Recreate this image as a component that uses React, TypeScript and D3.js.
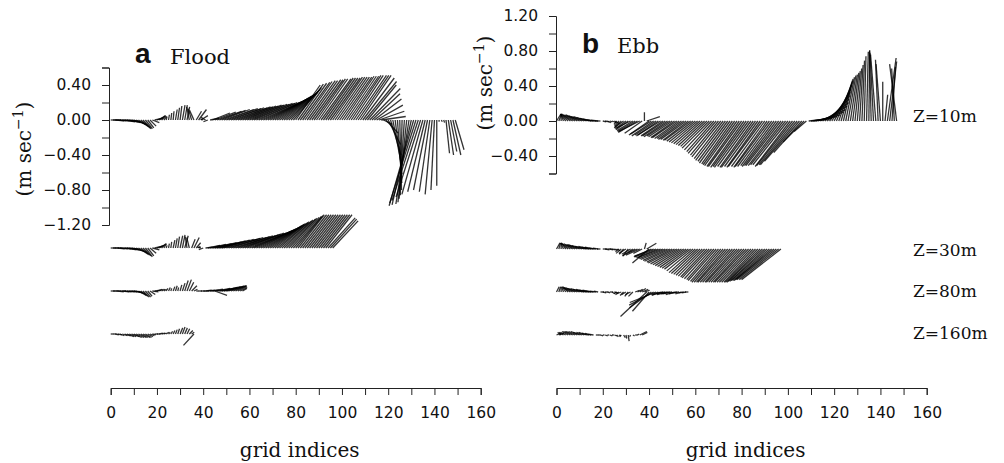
import { useEffect, useRef } from "react";
import * as d3 from "d3";

// each stick is [u, v] in m/s (east, north) at one grid index, starting at index 0
type Vec = [number, number];

const depthLabels = ["Z=10m", "Z=30m", "Z=80m", "Z=160m"];
const xTicks = d3.range(0, 161, 10);

const flood10: Vec[] = [
  [0.08, 0], [0.09, 0], [0.1, -0.01], [0.1, -0.01], [0.11, -0.01], [0.12, -0.01], [0.12, -0.02], [0.13, -0.02], [0.13, -0.03], [0.14, -0.03],
  [0.14, -0.05], [0.13, -0.06], [0.12, -0.08], [0.11, -0.09], [0.09, -0.1], [0.08, -0.1], [0.07, -0.09], [0.07, -0.07], [0.08, -0.03], [0.1, 0.02],
  [0.09, 0.04], [0.07, 0.05], [0.05, 0.05], [0.03, 0.04], [0.01, 0.04], [0.01, 0.06], [0.01, 0.08], [0.01, 0.1], [0.02, 0.12], [0.02, 0.14],
  [0.02, 0.16], [0.03, 0.17], [0.03, 0.17], [0.03, 0.15], [-0.03, 0.15], [-0.04, 0.13], [-0.05, 0.11], [0.06, 0.1], [0.09, 0.12], [0.08, 0.05],
  [-0.03, 0.01], [-0.05, 0.03], [-0.05, -0.02], [0.1, 0.02], [0.2, 0.08], [0.24, 0.09], [0.28, 0.1], [0.3, 0.11], [0.32, 0.12], [0.34, 0.12],
  [0.36, 0.13], [0.37, 0.13], [0.38, 0.14], [0.39, 0.14], [0.4, 0.15], [0.4, 0.15], [0.41, 0.16], [0.41, 0.16], [0.42, 0.17], [0.42, 0.17],
  [0.43, 0.18], [0.43, 0.18], [0.44, 0.19], [0.44, 0.19], [0.44, 0.2], [0.44, 0.2], [0.44, 0.21], [0.44, 0.22], [0.43, 0.23], [0.42, 0.24],
  [0.41, 0.25], [0.4, 0.26], [0.39, 0.27], [0.38, 0.28], [0.37, 0.29], [0.36, 0.3], [0.35, 0.31], [0.34, 0.33], [0.33, 0.35], [0.32, 0.37],
  [0.28, 0.4], [0.29, 0.41], [0.3, 0.42], [0.31, 0.43], [0.31, 0.44], [0.32, 0.45], [0.32, 0.45], [0.33, 0.46], [0.33, 0.46], [0.33, 0.47],
  [0.33, 0.47], [0.34, 0.47], [0.34, 0.48], [0.34, 0.48], [0.34, 0.48], [0.34, 0.48], [0.34, 0.49], [0.34, 0.49], [0.34, 0.49], [0.34, 0.49],
  [0.34, 0.49], [0.34, 0.5], [0.34, 0.5], [0.34, 0.5], [0.34, 0.51], [0.34, 0.51], [0.35, 0.51], [0.35, 0.51], [0.35, 0.51], [0.36, 0.48],
  [0.36, 0.44], [0.33, 0.4], [0.35, 0.36], [0.32, 0.3], [0.31, 0.24], [0.3, 0.17], [0.29, 0.1], [0.28, 0.04], [0.1, -0.05], [0.14, -0.15],
  [0.14, -0.28], [0.12, -0.4], [0.1, -0.52], [0.08, -0.62], [0.05, -0.72], [0.02, -0.8], [-0.02, -0.86], [-0.06, -0.9], [-0.1, -0.94], [-0.15, -0.96],
  [-0.22, -0.97], [-0.28, -0.98], [-0.3, -0.95], [-0.3, -0.92], [-0.28, -0.88], [-0.24, -0.85], [-0.2, -0.82], [-0.16, -0.8], [-0.12, -0.82], [-0.08, -0.85],
  [-0.04, -0.8], [0, -0.75], [0, -0.02], [0.01, -0.02], [0.01, -0.03], [0.04, -0.38], [0.06, -0.4], [0.07, -0.36], [0.09, -0.4], [0.1, -0.34],
];

const flood30: Vec[] = [
  [0.06, 0], [0.07, 0], [0.08, 0], [0.08, -0.01], [0.09, -0.01], [0.1, -0.01], [0.1, -0.01], [0.11, -0.02], [0.11, -0.02], [0.12, -0.03],
  [0.12, -0.04], [0.12, -0.05], [0.11, -0.07], [0.1, -0.08], [0.09, -0.09], [0.08, -0.1], [0.07, -0.09], [0.07, -0.06], [0.08, -0.02], [0.09, 0.02],
  [0.08, 0.03], [0.07, 0.04], [0.05, 0.05], [0.03, 0.05], [0.01, 0.03], [0.01, 0.05], [0.01, 0.07], [0.02, 0.09], [0.02, 0.11], [0.02, 0.13],
  [0.03, 0.14], [0.03, 0.15], [0.04, 0.14], [-0.02, 0.13], [-0.03, 0.12], [0.04, 0.1], [0.06, 0.12], [0.05, 0.06], [0.02, 0.02], [-0.04, 0.01],
  [-0.05, -0.02], [0.08, 0.01], [0.14, 0.03], [0.18, 0.04], [0.22, 0.05], [0.25, 0.06], [0.28, 0.07], [0.3, 0.08], [0.32, 0.09], [0.34, 0.1],
  [0.35, 0.1], [0.36, 0.11], [0.37, 0.12], [0.38, 0.12], [0.39, 0.13], [0.4, 0.14], [0.4, 0.14], [0.41, 0.15], [0.41, 0.16], [0.42, 0.17],
  [0.42, 0.17], [0.42, 0.18], [0.42, 0.19], [0.41, 0.2], [0.41, 0.21], [0.4, 0.22], [0.4, 0.23], [0.39, 0.24], [0.38, 0.25], [0.37, 0.26],
  [0.36, 0.27], [0.35, 0.28], [0.35, 0.29], [0.34, 0.3], [0.34, 0.31], [0.33, 0.32], [0.33, 0.33], [0.32, 0.34], [0.32, 0.35], [0.32, 0.36],
  [0.31, 0.37], [0.3, 0.38], [0.3, 0.38], [0.3, 0.38], [0.3, 0.38], [0.3, 0.38], [0.3, 0.38], [0.3, 0.38], [0.3, 0.38], [0.3, 0.38],
  [0.3, 0.38], [0.3, 0.38], [0.3, 0.38], [0.3, 0.38], [0.31, 0.345], [0.3, 0.33], [0.29, 0.31],
];

const flood80: Vec[] = [
  [0.05, 0], [0.06, 0], [0.06, 0], [0.07, -0.01], [0.07, 0], [0.08, -0.01], [0.08, -0.01], [0.09, -0.01], [0.09, -0.01], [0.1, -0.01],
  [0.1, -0.02], [0.1, -0.03], [0.09, -0.05], [0.08, -0.06], [0.07, -0.07], [0.06, -0.07], [0.05, -0.06], [0.06, -0.04], [0.07, -0.01], [0.07, 0.01],
  [0.06, 0.02], [0.05, 0.02], [0.04, 0.02], [0.03, 0.02], [0.02, 0.03], [0.02, 0.04], [0.01, 0.03], [0.02, 0.05], [0.02, 0.06], [0.01, 0.04],
  [0.02, 0.07], [0.03, 0.09], [0.04, 0.12], [0.05, 0.13], [0.05, 0.1], [0.06, 0.06], [0.04, 0.02], [0.03, 0], [0.04, 0], [0.05, 0],
  [0.06, 0], [0.07, 0.01], [0.08, 0.01], [0.1, 0.01], [0.12, 0.02], [0.14, -0.05], [0.15, 0.03], [0.17, 0.03], [0.18, 0.04], [0.19, 0.05],
  [0.19, 0.05], [0.18, 0.06], [0.17, 0.06], [0.15, 0.06], [0.13, 0.06], [0.1, 0.05], [0.08, 0.04], [0.05, 0.03],
];

const flood160: Vec[] = [
  [0.03, 0], [0.04, 0], [0.04, -0.01], [0.05, -0.01], [0.05, -0.02], [0.06, -0.02], [0.07, -0.02], [0.08, -0.03], [0.08, -0.03], [0.09, -0.03],
  [0.09, -0.04], [0.09, -0.04], [0.09, -0.04], [0.08, -0.04], [0.08, -0.04], [0.07, -0.04], [0.06, -0.03], [0.05, -0.02], [0.04, -0.01], [0.04, 0],
  [0.04, 0], [0.04, 0.01], [0.04, 0.01], [0.03, 0.01], [0.03, 0.02], [0.02, 0.02], [0.02, 0.03], [0.02, 0.04], [0.02, 0.05], [0.02, 0.06],
  [0.03, 0.07], [0.03, 0.08], [0.03, 0.07], [0.03, 0.06], [0.04, 0.04], [0.03, 0.02], [-0.12, -0.13],
];

const ebb10: Vec[] = [
  [0.05, 0.08], [0.03, 0.08], [0, 0.08], [-0.03, 0.08], [-0.06, 0.08], [-0.08, 0.08], [-0.1, 0.08], [-0.11, 0.07], [-0.12, 0.07], [-0.13, 0.07],
  [-0.14, 0.06], [-0.15, 0.06], [-0.15, 0.05], [-0.15, 0.05], [-0.14, 0.04], [-0.13, 0.03], [-0.12, 0.02], [-0.1, 0.01], [-0.08, 0.01], [-0.06, 0],
  [0.04, -0.01], [0.05, -0.01], [0.04, -0.02], [0.03, -0.01], [0.05, -0.02], [0.06, -0.03], [-0.03, -0.04], [-0.05, -0.06], [-0.08, -0.08], [-0.1, -0.07],
  [-0.12, -0.09], [-0.14, -0.1], [-0.16, -0.08], [-0.18, -0.11], [-0.2, -0.12], [-0.22, -0.13], [-0.24, -0.12], [-0.2, -0.14], [0, 0.1], [0.15, 0.05],
  [-0.23, -0.16], [-0.24, -0.15], [-0.25, -0.17], [-0.24, -0.16], [-0.25, -0.17], [-0.26, -0.16], [-0.25, -0.17], [-0.26, -0.17], [-0.27, -0.18], [-0.26, -0.17],
  [-0.27, -0.18], [-0.27, -0.19], [-0.28, -0.19], [-0.28, -0.2], [-0.28, -0.2], [-0.29, -0.21], [-0.29, -0.21], [-0.29, -0.22], [-0.3, -0.22], [-0.3, -0.23],
  [-0.3, -0.24], [-0.3, -0.25], [-0.3, -0.26], [-0.3, -0.27], [-0.3, -0.28], [-0.3, -0.29], [-0.31, -0.31], [-0.31, -0.33], [-0.31, -0.35], [-0.32, -0.37],
  [-0.32, -0.39], [-0.33, -0.41], [-0.33, -0.43], [-0.34, -0.45], [-0.34, -0.46], [-0.35, -0.48], [-0.35, -0.49], [-0.36, -0.5], [-0.37, -0.51], [-0.37, -0.52],
  [-0.38, -0.52], [-0.38, -0.53], [-0.38, -0.52], [-0.39, -0.53], [-0.38, -0.52], [-0.38, -0.53], [-0.39, -0.53], [-0.38, -0.52], [-0.38, -0.53], [-0.39, -0.52],
  [-0.38, -0.52], [-0.38, -0.53], [-0.39, -0.52], [-0.39, -0.52], [-0.38, -0.51], [-0.39, -0.52], [-0.39, -0.51], [-0.4, -0.51], [-0.4, -0.51], [-0.4, -0.5],
  [-0.4, -0.5], [-0.4, -0.52], [-0.41, -0.51], [-0.41, -0.5], [-0.42, -0.5], [-0.4, -0.46], [-0.32, -0.36], [-0.24, -0.24], [-0.14, -0.12], [0.2, 0.02],
  [0.24, 0.03], [0.27, 0.05], [0.28, 0.07], [0.29, 0.1], [0.29, 0.13], [0.28, 0.17], [0.27, 0.21], [0.25, 0.25], [0.23, 0.29], [0.21, 0.33],
  [0.19, 0.37], [0.17, 0.41], [0.15, 0.44], [0.13, 0.46], [0.11, 0.48], [0.1, 0.5], [0.09, 0.52], [0.08, 0.53], [0.07, 0.55], [0.06, 0.57],
  [0.05, 0.6], [0.04, 0.64], [0.03, 0.69], [0.02, 0.74], [0.02, 0.79], [0.01, 0.81], [-0.02, 0.8], [-0.04, 0.78], [-0.06, 0.76], [-0.03, 0.7],
  [-0.05, 0.65], [0, 0.45], [0.03, 0.3], [0.1, 0.72], [0.08, 0.68], [0.04, 0.62], [-0.03, 0.6], [-0.08, 0.65],
];

const ebb30: Vec[] = [
  [0.04, 0.07], [0.02, 0.07], [0, 0.07], [-0.03, 0.07], [-0.05, 0.07], [-0.07, 0.06], [-0.09, 0.06], [-0.1, 0.06], [-0.11, 0.05], [-0.12, 0.05],
  [-0.13, 0.05], [-0.14, 0.04], [-0.14, 0.04], [-0.13, 0.03], [-0.12, 0.03], [-0.11, 0.02], [-0.1, 0.02], [-0.08, 0.01], [-0.06, 0.01], [-0.04, 0],
  [0.05, 0], [0.05, -0.01], [0.05, 0], [0.04, -0.01], [0.04, -0.01], [0.03, -0.01], [0.04, -0.02], [-0.04, -0.03], [-0.06, -0.05], [-0.05, -0.06],
  [-0.08, -0.05], [-0.06, -0.08], [-0.1, -0.06], [-0.12, -0.08], [-0.08, -0.04], [-0.14, -0.06], [-0.16, -0.07], [-0.1, -0.05], [0.02, 0.07], [0.11, 0.065],
  [-0.19, -0.16], [-0.2, -0.09], [-0.22, -0.08], [-0.24, -0.09], [-0.25, -0.1], [-0.26, -0.1], [-0.27, -0.11], [-0.28, -0.12], [-0.28, -0.13], [-0.29, -0.14],
  [-0.29, -0.15], [-0.3, -0.16], [-0.3, -0.17], [-0.3, -0.18], [-0.3, -0.19], [-0.3, -0.2], [-0.3, -0.21], [-0.3, -0.22], [-0.3, -0.23], [-0.3, -0.25],
  [-0.3, -0.27], [-0.3, -0.28], [-0.3, -0.29], [-0.3, -0.3], [-0.3, -0.31], [-0.3, -0.32], [-0.31, -0.33], [-0.31, -0.34], [-0.31, -0.35], [-0.32, -0.36],
  [-0.32, -0.37], [-0.33, -0.38], [-0.33, -0.38], [-0.33, -0.38], [-0.34, -0.38], [-0.34, -0.38], [-0.34, -0.38], [-0.34, -0.38], [-0.35, -0.38], [-0.35, -0.38],
  [-0.35, -0.38], [-0.35, -0.38], [-0.36, -0.38], [-0.36, -0.38], [-0.36, -0.38], [-0.36, -0.38], [-0.36, -0.38], [-0.37, -0.38], [-0.38, -0.38], [-0.39, -0.37],
  [-0.4, -0.37], [-0.41, -0.36], [-0.42, -0.36], [-0.43, -0.36], [-0.44, -0.35], [-0.45, -0.35], [-0.45, -0.35], [-0.45, -0.35],
];

const ebb80: Vec[] = [
  [0.03, 0.06], [0.02, 0.06], [0, 0.06], [-0.02, 0.06], [-0.04, 0.06], [-0.06, 0.06], [-0.08, 0.05], [-0.1, 0.05], [-0.11, 0.05], [-0.12, 0.04],
  [-0.13, 0.04], [-0.13, 0.04], [-0.13, 0.03], [-0.12, 0.03], [-0.11, 0.02], [-0.1, 0.02], [-0.09, 0.01], [-0.07, 0.01], [-0.05, 0.01], [0.04, 0],
  [0.04, -0.01], [0.04, 0], [0.03, -0.01], [0.04, 0], [0.03, -0.02], [0.04, -0.01], [-0.03, -0.02], [-0.04, -0.03], [-0.05, -0.02], [-0.04, -0.04],
  [-0.05, -0.03], [-0.04, -0.05], [-0.06, -0.03], [-0.05, -0.05], [0.05, 0.02], [0.06, 0.03], [0.07, 0.04], [0.07, 0.03], [0.06, 0.02], [-0.3, -0.28],
  [-0.19, -0.22], [-0.25, -0.18], [-0.28, -0.15], [-0.3, -0.12], [-0.08, -0.03], [-0.1, -0.04], [-0.12, -0.03], [-0.1, -0.02], [-0.12, -0.03], [-0.1, -0.02],
  [-0.11, -0.02], [-0.1, -0.03], [-0.09, -0.02], [-0.08, -0.01], [-0.07, -0.02], [-0.06, -0.01], [-0.05, -0.01], [-0.04, 0],
];

const ebb160: Vec[] = [
  [0.05, 0.02], [0.06, 0.02], [-0.04, 0.03], [-0.05, 0.03], [-0.06, 0.03], [-0.07, 0.04], [-0.08, 0.04], [-0.09, 0.04], [-0.1, 0.04], [-0.1, 0.04],
  [-0.1, 0.04], [-0.1, 0.03], [-0.09, 0.03], [-0.09, 0.03], [-0.08, 0.02], [-0.07, 0.02], [-0.06, 0.01], [0.03, 0], [0.03, 0], [0.03, -0.01],
  [0.02, 0], [0.03, -0.01], [0.02, 0], [0.03, -0.01], [0.02, 0], [0.03, -0.01], [0.02, -0.02], [0.02, -0.01], [-0.02, -0.02], [0.02, -0.03],
  [0.01, -0.04], [0.01, -0.07], [-0.01, -0.02], [0.02, -0.01], [0.03, 0], [0.02, 0.01], [0.08, 0.04], [0.06, 0.03],
];

const W = 1004;
const H = 463;
// vertical distance of each depth row below the 10 m row
const rowOffset = [0, 128, 171, 214];
const depthLabelDy = [1, 7, 5, 4];
const fmt = d3.format(".2f");
const serif = "'DejaVu Serif', serif";
const sans = "'DejaVu Sans', sans-serif";

type PanelSpec = {
  letter: string;
  name: string;
  series: Vec[][];
  xRange: [number, number];
  yDomain: [number, number];
  yRange: [number, number];
  axisX: number;
  letterX: number;
  nameX: number;
  titleY: number;
  titleX: number;
  titleCenter: number;
  showDepth: boolean;
};

const panels: PanelSpec[] = [
  {
    letter: "a",
    name: "Flood",
    series: [flood10, flood30, flood80, flood160],
    xRange: [110.7, 480.7],
    yDomain: [-1.2, 0.6],
    yRange: [225, 67.5],
    axisX: 109,
    letterX: 135,
    nameX: 170,
    titleY: 63,
    titleX: 31,
    titleCenter: 149,
    showDepth: false,
  },
  {
    letter: "b",
    name: "Ebb",
    series: [ebb10, ebb30, ebb80, ebb160],
    xRange: [556.5, 926.7],
    yDomain: [-0.6, 1.2],
    yRange: [173.5, 16],
    axisX: 556,
    letterX: 582,
    nameX: 617,
    titleY: 52.5,
    titleX: 492,
    titleCenter: 83,
    showDepth: true,
  },
];

const Panel = ({ spec }: { spec: PanelSpec }) => {
  const xAxisRef = useRef<SVGGElement>(null);
  const yAxisRef = useRef<SVGGElement>(null);

  const xScale = d3.scaleLinear().domain([0, 160]).range(spec.xRange);
  const yScale = d3.scaleLinear().domain(spec.yDomain).range(spec.yRange);
  const k = yScale(0) - yScale(1); // px per m/s, same both ways
  const base = yScale(0);

  useEffect(() => {
    const yTicks = d3
      .range(Math.round(spec.yDomain[0] / 0.2), Math.round(spec.yDomain[1] / 0.2) + 1)
      .map((s) => s * 0.2);
    const yAxis = d3
      .axisLeft(yScale)
      .tickValues(yTicks)
      .tickSize(7)
      .tickSizeOuter(7)
      .tickPadding(11)
      .tickFormat((d) => (Math.round(+d / 0.2) % 2 === 0 ? fmt(+d) : ""));
    const gy = d3.select(yAxisRef.current!);
    gy.selectAll("*").remove();
    gy.call(yAxis);

    const xAxis = d3
      .axisBottom(xScale)
      .tickValues(xTicks)
      .tickSize(7)
      .tickSizeOuter(7)
      .tickPadding(12)
      .tickFormat((d) => (+d % 20 === 0 ? String(d) : ""));
    const gx = d3.select(xAxisRef.current!);
    gx.selectAll("*").remove();
    gx.call(xAxis);

    [gx, gy].forEach((g) => {
      g.attr("font-family", sans).attr("font-size", 15.5);
      g.selectAll(".domain, .tick line").attr("stroke", "#222");
      g.selectAll("text").attr("fill", "#111");
    });
  }, []);

  const xMid = (spec.xRange[0] + spec.xRange[1]) / 2;

  return (
    <g>
      <g ref={yAxisRef} transform={`translate(${spec.axisX},0)`} />
      <g ref={xAxisRef} transform="translate(0,388)" />

      {spec.series.map((vecs, row) => {
        const y0 = base + rowOffset[row];
        return (
          <g key={row} stroke="#000" strokeOpacity={0.8} strokeWidth={1.3}>
            {vecs.map(([u, v], i) => (
              <line
                key={i}
                x1={xScale(i)}
                y1={y0}
                x2={xScale(i) + u * k}
                y2={y0 - v * k}
              />
            ))}
          </g>
        );
      })}

      {spec.showDepth &&
        depthLabels.map((d, row) => (
          <text
            key={d}
            x={913}
            y={base + rowOffset[row] + depthLabelDy[row]}
            fontFamily={serif}
            fontSize={17}
            fill="#111"
          >
            {d}
          </text>
        ))}

      <text x={spec.letterX} y={spec.titleY} fontFamily="'Liberation Sans', Arial, sans-serif" fontWeight="bold" fontSize={28} fill="#111">
        {spec.letter}
      </text>
      <text x={spec.nameX} y={spec.titleY + 0.5} fontFamily={serif} fontSize={21} fill="#111">
        {spec.name}
      </text>

      <text
        transform={`translate(${spec.titleX},${spec.titleCenter}) rotate(-90)`}
        textAnchor="middle"
        fontFamily={serif}
        fontSize={20}
        fill="#111"
      >
        (m sec
        <tspan fontSize={14} dy={-8}>
          −1
        </tspan>
        <tspan dy={8}>)</tspan>
      </text>

      <text x={xMid + 4} y={456.5} textAnchor="middle" fontFamily={serif} fontSize={20} fill="#111">
        grid indices
      </text>
    </g>
  );
};

const App = () => {
  return (
    <svg
      width={W}
      height={H}
      style={{ position: "absolute", left: 0, top: 0, background: "#fff" }}
    >
      {panels.map((p) => (
        <Panel key={p.letter} spec={p} />
      ))}
    </svg>
  );
};

export default App;
